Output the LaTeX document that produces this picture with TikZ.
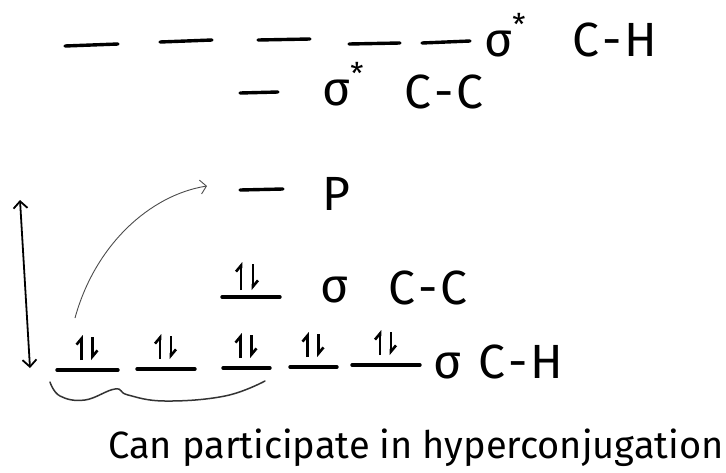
\documentclass[tikz,border=0pt]{standalone}
\usepackage{fontspec}
\setmainfont{Fira Sans}
\usetikzlibrary{arrows.meta}
\newcommand{\sstar}{σ\raisebox{0.42em}{\fontsize{30}{30}\selectfont *}}
\newcommand{\bondlbl}[2]{#1\hspace{3pt}-\hspace{3pt}#2}
\begin{document}
\begin{tikzpicture}[x=1pt,y=-1pt,
  lvl/.style={line width=3.4pt,line cap=round},
  lbl/.style={font=\fontsize{48}{48}\selectfont,inner sep=0pt,anchor=base west},
  up/.style={line width=2.6pt,-{Straight Barb[left,length=6pt,width=10pt]}},
  dn/.style={line width=2.6pt,-{Straight Barb[left,length=6pt,width=10pt]}},
  thin arrow/.style={line width=0.9pt,draw=black!70,-{Straight Barb[length=6pt,width=14pt]}}]
\useasboundingbox (0,0) rectangle (726,472);
\fill[white] (0,0) rectangle (726,472);
% sigma* C-H levels
\draw[lvl] (65,46)--(118,44);
\draw[lvl] (160,42)--(212,40);
\draw[lvl] (258,40)--(310,39);
\draw[lvl] (349,44)--(400,43);
\draw[lvl] (422,43)--(470,41);
\node[lbl] (sschl) at (484,56) {\sstar};
\node[lbl] (sschn) at (572,56) {\bondlbl{C}{H}};
% sigma* C-C
\draw[lvl] (240,93)--(278,92);
\node[lbl] (ssccl) at (322,105) {\sstar};
\node[lbl] (ssccn) at (404,108) {\bondlbl{C}{C}};
% p
\draw[lvl] (240,190)--(283,189);
\node[lbl] (plab) at (322,210) {P};
% sigma C-C
\draw[lvl] (222,297)--(280,297);
\draw[up] (241,290)--(241,262);
\draw[dn] (253,264)--(253,290);
\node[lbl] (scc1) at (320,302) {σ};
\node[lbl] (scc2) at (388,304) {\bondlbl{C}{C}};
% sigma C-H levels
\foreach \xa/\xb/\yy in {57/118/370,137/195/369,223/270/368,290/337/367,352/420/365}{
  \draw[lvl] (\xa,\yy)--(\xb,\yy);
  \pgfmathsetmacro\xc{(\xa+\xb)/2}
  \draw[up] (\xc-6,\yy-10)--(\xc-6,\yy-35);
  \draw[dn] (\xc+5,\yy-33)--(\xc+5,\yy-10);
}
\coordinate (ch1) at (75,318);
\node[lbl] (sch1) at (433,378) {σ};
\node[lbl] (sch2) at (478,378) {\bondlbl{C}{H}};
% energy axis
\coordinate (etop) at (20,200);
\coordinate (ebot) at (30,368);
\draw[line width=1.8pt,{Straight Barb[length=7pt,width=14pt]}-{Straight Barb[length=7pt,width=14pt]}] (ebot)--(etop);
% curved arrow
\coordinate (ptarget) at (207,186);
\draw[thin arrow] (ch1) .. controls (95,245) and (150,195) .. (ptarget);
% brace
\draw[line width=1.5pt,draw=black!80,line cap=round] plot[smooth,tension=0.7] coordinates {(50,382) (60,396) (85,400) (115,389) (128,395) (165,401) (225,396) (265,381)};
% caption
\node[font=\fontsize{38}{38}\selectfont,inner sep=0pt,anchor=base west] (cap) at (108,458) {Can participate in hyperconjugation};
\end{tikzpicture}
\end{document}
